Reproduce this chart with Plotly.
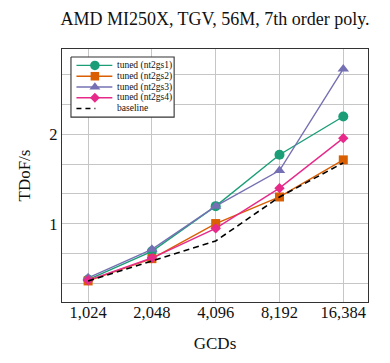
import math
import plotly.graph_objects as go

# ---- data ----
gcds = [1024, 2048, 4096, 8192, 16384]
gcd_labels = ["1,024", "2,048", "4,096", "8,192", "16,384"]
tuned_nt2gs1 = [0.38, 0.695, 1.198, 1.77, 2.196]
tuned_nt2gs2 = [0.365, 0.613, 1.004, 1.30, 1.713]
tuned_nt2gs3 = [0.40, 0.717, 1.198, 1.594, 2.725]
tuned_nt2gs4 = [0.372, 0.62, 0.95, 1.398, 1.955]
baseline = [0.365, 0.586, 0.81, 1.30, 1.68]
series_names = ["tuned (nt2gs1)", "tuned (nt2gs2)", "tuned (nt2gs3)", "tuned (nt2gs4)", "baseline"]
y_ticks = [1, 2]

# ---- styling ----
W, H = 390, 363
L, R, T, B = 61.5, 368.5, 49.3, 302.0
FONT = "Liberation Serif"
colors = ["#1b9e77", "#d95f02", "#7570b3", "#e7298a", "#000000"]
symbols = ["circle", "square", "triangle-up", "diamond", None]
msizes = [10, 9, 10, 8, 0]

series = [tuned_nt2gs1, tuned_nt2gs2, tuned_nt2gs3, tuned_nt2gs4, baseline]

fig = go.Figure()
for i, (name, vals) in enumerate(zip(series_names, series)):
    if symbols[i] is None:
        fig.add_trace(go.Scatter(x=gcds, y=vals, name=name, mode="lines",
                                 line=dict(color=colors[i], width=1.6, dash="6px,4px"),
                                 showlegend=False))
    else:
        fig.add_trace(go.Scatter(x=gcds, y=vals, name=name, mode="lines+markers",
                                 line=dict(color=colors[i], width=1.4),
                                 marker=dict(symbol=symbols[i], size=msizes[i], color=colors[i],
                                             line=dict(width=0)),
                                 showlegend=False))

# ---- custom compact legend on an overlay axis in pixel units ----
lx0, lx1, ly0, ly1 = 70.5, 174.0, 57.3, 117.3
rows = [65.7, 76.5, 87.3, 98.0, 108.7]
fig.add_trace(go.Scatter(x=[lx0, lx1, lx1, lx0, lx0], y=[ly0, ly0, ly1, ly1, ly0],
                         mode="lines", fill="toself", fillcolor="white",
                         line=dict(color="#333333", width=1.1),
                         xaxis="x2", yaxis="y2", showlegend=False, hoverinfo="skip"))
for i, name in enumerate(series_names):
    yy = rows[i]
    if symbols[i] is None:
        fig.add_trace(go.Scatter(x=[76, 95], y=[yy, yy], mode="lines",
                                 line=dict(color="black", width=1.6, dash="5px,4px"),
                                 xaxis="x2", yaxis="y2", showlegend=False, hoverinfo="skip"))
    else:
        fig.add_trace(go.Scatter(x=[76, 112], y=[yy, yy], mode="lines",
                                 line=dict(color=colors[i], width=1.4),
                                 xaxis="x2", yaxis="y2", showlegend=False, hoverinfo="skip"))
        fig.add_trace(go.Scatter(x=[94.5], y=[yy], mode="markers",
                                 marker=dict(symbol=symbols[i], size=msizes[i] * 0.95,
                                             color=colors[i], line=dict(width=0)),
                                 xaxis="x2", yaxis="y2", showlegend=False, hoverinfo="skip"))
    fig.add_annotation(x=114.5, y=yy, xref="x2", yref="y2", text=name, showarrow=False,
                       xanchor="left", yanchor="middle",
                       font=dict(family=FONT, size=9.5, color="#111"))

# axis ranges
step = 64.0
x_left = math.log10(1024) + (-(87.7 - L) / step) * math.log10(2)
x_right = math.log10(16384) + ((R - 343.7) / step) * math.log10(2)
px_per_unit = 89.7
y_bot = 1 - (B - 224.0) / px_per_unit
y_top = 1 + (224.0 - T) / px_per_unit

grid_vals = [k / 3 for k in range(1, 9)]
grid_text = [str(int(round(v))) if abs(v - round(v)) < 1e-6 and round(v) in y_ticks else "" for v in grid_vals]

axis_common = dict(showline=True, mirror=True, linecolor="#333333", linewidth=1.2,
                   gridcolor="#c6c6c6", gridwidth=0.9, zeroline=False, ticks="",
                   tickfont=dict(family=FONT, size=16.5, color="#111"))

fig.update_layout(
    width=W, height=H,
    margin=dict(l=L, r=W - R, t=T, b=H - B, pad=0),
    paper_bgcolor="white", plot_bgcolor="white",
    title=dict(text="AMD MI250X, TGV, 56M, 7th order poly.", x=(L + R) / 2 / W, xanchor="center",
               y=1 - 19 / H, yanchor="middle",
               font=dict(family=FONT, size=18, color="#111")),
    xaxis=dict(type="log", range=[x_left, x_right], tickvals=gcds, ticktext=gcd_labels,
               ticklabelstandoff=-5,
               title=dict(text="GCDs", font=dict(family=FONT, size=17, color="#111"), standoff=16),
               **axis_common),
    yaxis=dict(range=[y_bot, y_top], tickvals=grid_vals, ticktext=grid_text,
               title=dict(text="TDoF/s", font=dict(family=FONT, size=17, color="#111"), standoff=14),
               **axis_common),
    xaxis2=dict(overlaying="x", range=[L, R], visible=False, fixedrange=True),
    yaxis2=dict(overlaying="y", range=[B, T], visible=False, fixedrange=True),
    showlegend=False,
)

fig.write_html("out.html", post_script="document.body.style.margin='0';",
               config={"displayModeBar": False})
